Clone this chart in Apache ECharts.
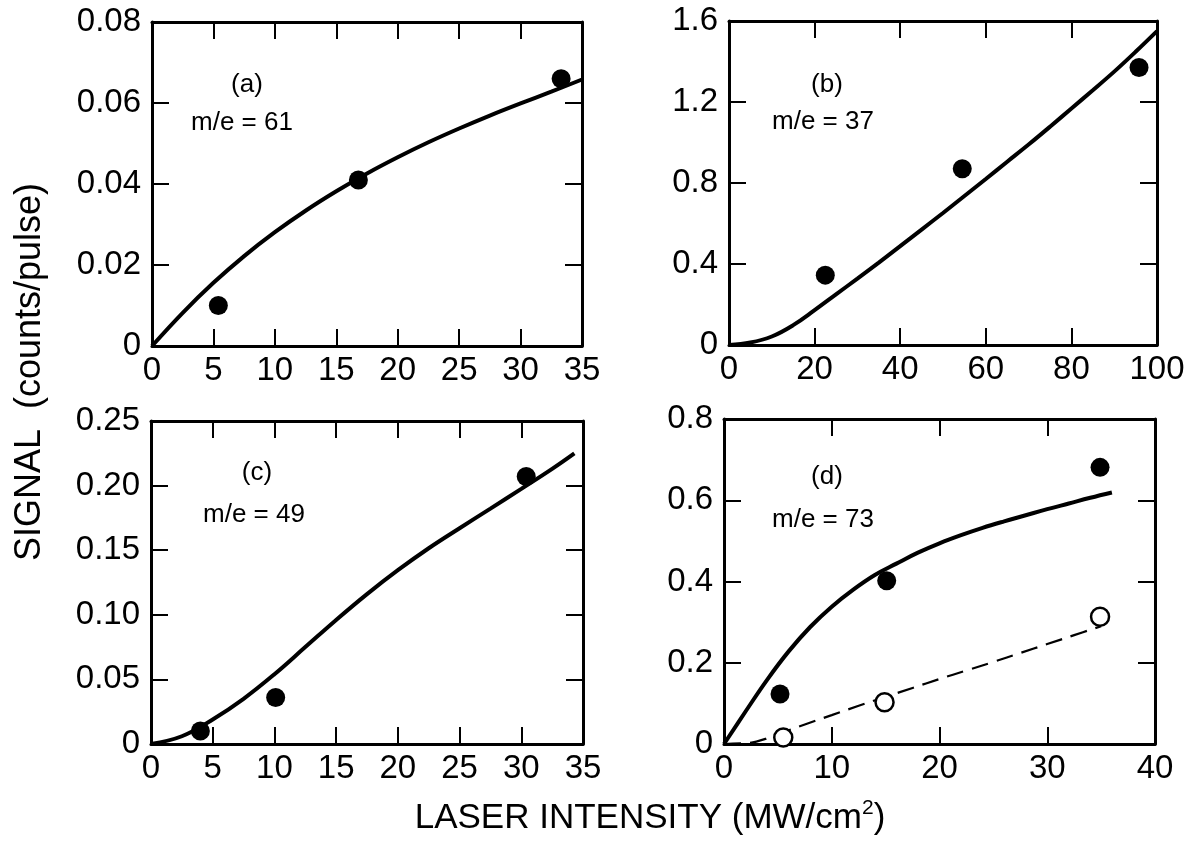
<!DOCTYPE html>
<html><head><meta charset="utf-8">
<script src="https://cdn.jsdelivr.net/npm/echarts@6/dist/echarts.min.js"></script>
<style>html,body{margin:0;padding:0;background:#fff}#c{width:1191px;height:849px}</style>
</head><body><div id="c"></div>
<script>
// ---- Panel (a) m/e = 61 ----
const curveA = [[0,0],[2.5,0.0082],[5,0.0156],[7.5,0.0222],[10,0.0281],[12.5,0.0334],[15,0.0382],[17.5,0.0426],[20,0.0466],[22.5,0.0503],[25,0.0537],[27.5,0.0569],[30,0.0599],[32.5,0.0628],[35,0.0658]];
const pointsA = [[5.4,0.0100],[16.8,0.0410],[33.3,0.0660]];
// ---- Panel (b) m/e = 37 ----
const curveB = [[0,0],[5,0.012],[10,0.042],[15,0.098],[20,0.172],[25,0.250],[30,0.328],[35,0.407],[40,0.488],[45,0.570],[50,0.652],[55,0.736],[60,0.820],[65,0.905],[70,0.990],[75,1.078],[80,1.168],[85,1.258],[90,1.350],[95,1.448],[100,1.550]];
const pointsB = [[22.5,0.345],[54.5,0.870],[95.8,1.370]];
// ---- Panel (c) m/e = 49 ----
const curveC = [[0,0],[2.5,0.006],[5,0.019],[7.5,0.035],[10,0.054],[12.5,0.075],[15,0.096],[17.5,0.116],[20,0.1345],[22.5,0.1515],[25,0.1670],[27.5,0.1822],[30,0.1975],[32.5,0.2130],[34.3,0.225]];
const pointsC = [[4.0,0.010],[10.1,0.036],[30.4,0.207]];
// ---- Panel (d) m/e = 73 ----
const curveDSolid = [[0,0],[2,0.080],[4,0.158],[6,0.228],[8,0.288],[10,0.338],[12,0.380],[14,0.416],[16,0.444],[18,0.471],[20,0.494],[22,0.514],[24,0.532],[26,0.548],[28,0.563],[30,0.578],[32,0.592],[34,0.606],[36,0.619]];
const curveDDashed = [[0,0],[2,0.002],[3,0.006],[4,0.014],[5,0.024],[7.5,0.048],[10,0.071],[12.5,0.094],[15,0.116],[17.5,0.138],[20,0.160],[22.5,0.181],[25,0.202],[27.5,0.224],[30,0.246],[32.5,0.268],[35,0.290]];
const pointsDFilled = [[5.2,0.123],[15.1,0.402],[34.9,0.681]];
const pointsDOpen = [[5.5,0.016],[14.9,0.103],[34.9,0.313]];

// axis ranges [min, max, interval] and label decimals
const xRangeA = [0, 35, 5],  yRangeA = [0, 0.08, 0.02];
const xRangeB = [0, 100, 20], yRangeB = [0, 1.6, 0.4];
const xRangeC = [0, 35, 5],  yRangeC = [0, 0.25, 0.05];
const xRangeD = [0, 40, 10], yRangeD = [0, 0.8, 0.2];
const yDecimals = [2, 1, 2, 1];
const panelLabels = ['(a)', '(b)', '(c)', '(d)'];
const massLabels = ['m/e = 61', 'm/e = 37', 'm/e = 49', 'm/e = 73'];
const xTitle = 'LASER INTENSITY (MW/cm';
const yTitle = 'SIGNAL  (counts/pulse)';

const FONT = '"Liberation Sans", Arial, Helvetica, sans-serif';
const grids = [
  {left: 152, top: 22, width: 430, height: 324},
  {left: 729, top: 21, width: 428, height: 324},
  {left: 151, top: 421, width: 432, height: 323},
  {left: 724, top: 419, width: 431, height: 325}
];
const xRanges = [xRangeA, xRangeB, xRangeC, xRangeD];
const yRanges = [yRangeA, yRangeB, yRangeC, yRangeD];
const txtPos = [
  {p: [247, 85], m: [191, 123]},
  {p: [827, 85], m: [772, 122]},
  {p: [257, 473], m: [203, 515]},
  {p: [827, 477], m: [772, 520]}
];

const lineCol = '#000';
function mkAxis(gi, rng, pos, showLabel, fmt) {
  return {
    type: 'value', gridIndex: gi, position: pos,
    min: rng[0], max: rng[1], interval: rng[2],
    axisLine: {show: true, onZero: false, lineStyle: {color: lineCol, width: 3}},
    axisTick: {show: true, inside: true, length: 17, lineStyle: {color: lineCol, width: 2}},
    axisLabel: {show: showLabel, color: '#000', fontSize: 33, fontFamily: FONT,
      margin: (pos === 'left') ? 11 : 8, formatter: fmt},
    splitLine: {show: false}
  };
}
const xAxes = [], yAxes = [];
for (let i = 0; i < 4; i++) {
  const dec = yDecimals[i];
  xAxes.push(mkAxis(i, xRanges[i], 'bottom', true, v => String(v)));
  xAxes.push(mkAxis(i, xRanges[i], 'top', false, v => String(v)));
  yAxes.push(mkAxis(i, yRanges[i], 'left', true, v => v === 0 ? '0' : v.toFixed(dec)));
  yAxes.push(mkAxis(i, yRanges[i], 'right', false, v => String(v)));
}

function curve(i, data, dashed) {
  return {type: 'line', xAxisIndex: 2 * i, yAxisIndex: 2 * i, data: data, smooth: 0.4,
    showSymbol: false, symbol: 'none', silent: true,
    lineStyle: {color: '#000', width: dashed ? 2.2 : 4, type: dashed ? [17, 9] : 'solid', opacity: 1}, z: 3};
}
function dots(i, data, open) {
  return {type: 'scatter', xAxisIndex: 2 * i, yAxisIndex: 2 * i, data: data,
    symbol: 'circle', symbolSize: open ? 18 : 19, silent: true,
    itemStyle: open ? {color: '#fff', borderColor: '#000', borderWidth: 2.5, opacity: 1} : {color: '#000', opacity: 1}, z: 4};
}
const series = [
  curve(0, curveA), dots(0, pointsA),
  curve(1, curveB), dots(1, pointsB),
  curve(2, curveC), dots(2, pointsC),
  curve(3, curveDSolid), curve(3, curveDDashed, true), dots(3, pointsDFilled), dots(3, pointsDOpen, true)
];

const graphics = [];
for (let i = 0; i < 4; i++) {
  graphics.push({type: 'text', x: txtPos[i].p[0], y: txtPos[i].p[1],
    style: {text: panelLabels[i], font: '26px ' + FONT, fill: '#000', textAlign: 'center', textVerticalAlign: 'middle'}});
  graphics.push({type: 'text', x: txtPos[i].m[0], y: txtPos[i].m[1],
    style: {text: massLabels[i], font: '26px ' + FONT, fill: '#000', textAlign: 'left', textVerticalAlign: 'middle'}});
}
graphics.push({type: 'text', x: 650, y: 818,
  style: {text: '{a|' + xTitle + '}{s|2}{a|)}', textAlign: 'center', textVerticalAlign: 'middle',
    rich: {a: {fontSize: 35, fontFamily: FONT, color: '#000', lineHeight: 40},
           s: {fontSize: 21, fontFamily: FONT, color: '#000', verticalAlign: 'top', lineHeight: 40}}}});
graphics.push({type: 'text', x: 30, y: 372, rotation: Math.PI / 2,
  style: {text: yTitle, font: '36px ' + FONT, fill: '#000', textAlign: 'center', textVerticalAlign: 'middle'}});

const chart = echarts.init(document.getElementById('c'), null, {renderer: 'canvas'});
chart.setOption({
  backgroundColor: '#fff',
  animation: false,
  grid: grids,
  xAxis: xAxes,
  yAxis: yAxes,
  series: series,
  graphic: graphics
});
</script></body></html>
